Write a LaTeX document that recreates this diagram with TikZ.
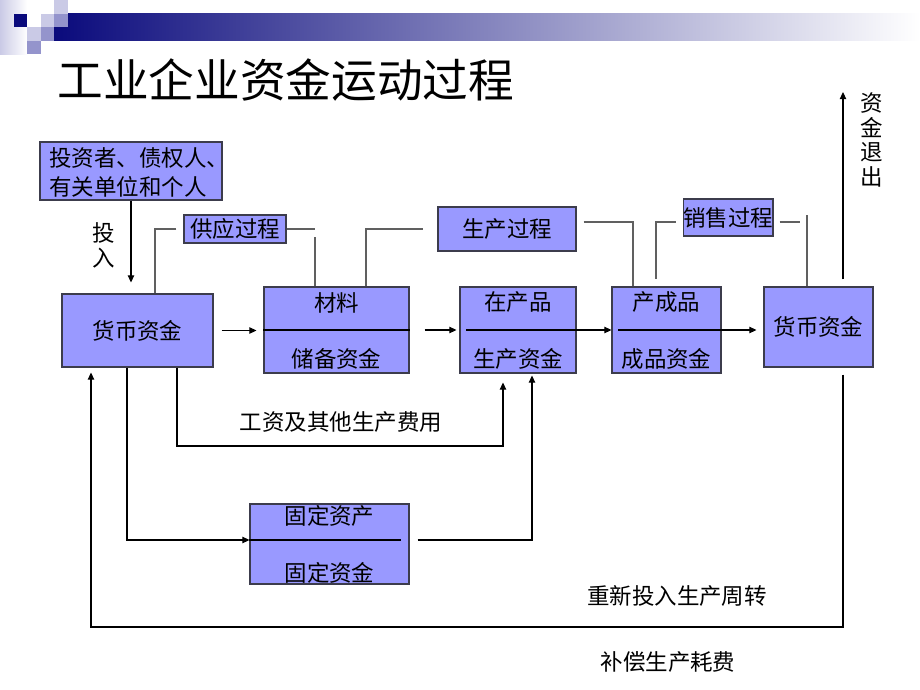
\documentclass[tikz,border=0pt]{standalone}
\usepackage{fontspec}
\setmainfont{Noto Sans CJK SC}
\usepackage{tikz}
\usetikzlibrary{arrows.meta}
\usetikzlibrary{positioning}
\usepackage{xcolor}
\definecolor{boxblue}{HTML}{9999FF}
\definecolor{navyc}{HTML}{0A0A7C}
\definecolor{barmid}{HTML}{A4A4D2}
\definecolor{lightlav}{HTML}{CACAE6}
\definecolor{midlav}{HTML}{9494CC}
\definecolor{linegray}{HTML}{606060}
\definecolor{edgegray}{HTML}{3C3C4C}

\tikzset{
  txt/.style={font=\fontsize{12.8pt}{15pt}\selectfont, inner sep=0pt},
  box/.style={txt, draw=edgegray, fill=boxblue, line width=0.6pt},
  flow/.style={-{Triangle[length=4pt,width=3.6pt]}, line width=0.6pt},
  procline/.style={draw=linegray, line width=0.8pt},
  divide/.style={line width=0.6pt}
}

\begin{document}
\begin{tikzpicture}[x=0.02cm,y=-0.02cm]
\useasboundingbox (0,0) rectangle (920,690);
% header squares and bar
\shade[left color=lightlav,right color=white] (0,0) rectangle (27,54);
\shade[left color=navyc,middle color=barmid,right color=white] (54,13.5) rectangle (920,40.5);
\fill[navyc] (13.5,13.5) rectangle ++(13.5,13.5);
\fill[lightlav] (27,27) rectangle ++(13.5,13.5);
\fill[midlav] (27,40.5) rectangle ++(13.5,13.5);
\fill[lightlav] (40.5,13.5) rectangle ++(13.5,13.5);
\fill[midlav] (40.5,27) rectangle ++(13.5,13.5);
\fill[lightlav] (54,0) rectangle ++(13.5,13.5);
\fill[midlav] (54,13.5) rectangle ++(13.5,13.5);
\node[anchor=west, inner sep=0pt, font=\fontsize{26pt}{30pt}\selectfont] (title) at (57,80) {工业企业资金运动过程};

% boxes
\node[box, minimum width=3.64cm, minimum height=1.16cm] (inv) at (131,171) {};
\node[txt, anchor=west, align=left, font=\fontsize{12.8pt}{16.4pt}\selectfont] (invtxt) at (49,172.5) {投资者、债权人、\\有关单位和个人};
\node[box, minimum width=2.04cm, minimum height=0.56cm] (supply) at (235,229) {供应过程};
\node[box, minimum width=2.76cm, minimum height=0.88cm] (prodp) at (507,229) {生产过程};
\node[box, minimum width=1.76cm, minimum height=0.74cm] (sales) at (728,217.5) {销售过程};
\node[box, minimum width=3.02cm, minimum height=1.46cm] (m1) at (137.5,330.5) {货币资金};
\node[box, minimum width=2.9cm, minimum height=1.72cm] (mat) at (336.5,330) {};
\node[box, minimum width=2.32cm, minimum height=1.72cm] (wip) at (518,330) {};
\node[box, minimum width=2.18cm, minimum height=1.72cm] (fin) at (666.5,330) {};
\node[box, minimum width=2.18cm, minimum height=1.6cm] (m2) at (818.5,327) {货币资金};
\node[box, minimum width=3.18cm, minimum height=1.6cm] (fixed) at (329.5,544) {};

\node[txt] (matU) at ([yshift=-0.32cm]mat.north) {材料};
\node[txt] (matD) at ([yshift=0.3cm]mat.south) {储备资金};
\node[txt] (wipU) at ([yshift=-0.32cm]wip.north) {在产品};
\node[txt] (wipD) at ([yshift=0.3cm]wip.south) {生产资金};
\node[txt] (finU) at ([yshift=-0.32cm]fin.north) {产成品};
\node[txt] (finD) at ([yshift=0.3cm]fin.south) {成品资金};
\node[txt] (fixU) at ([yshift=-0.24cm]fixed.north) {固定资产};
\node[txt] (fixD) at ([yshift=0.24cm]fixed.south) {固定资金};

% main flow
\draw[flow, shorten >=0.22cm] (inv.south) -- (inv.south |- m1.north);
\node[txt, align=center, font=\fontsize{12.8pt}{14.2pt}\selectfont] (invlbl) at (104,245.5) {投\\入};
\draw[flow, shorten <=0.16cm, shorten >=0.14cm] (m1.east) -- (mat.west |- m1.east);
\draw[divide] (mat.west) -- (mat.east);
\draw[flow, shorten <=0.3cm, shorten >=0.06cm] (mat.east) -- (wip.west);
\draw[flow] ([xshift=0.14cm]wip.west) -- (fin.west);
\draw[flow, shorten >=0.14cm] ([xshift=0.14cm]fin.west) -- (m2.west |- fin.west);

% wages
\coordinate (wageA) at (177,446);
\coordinate (wageB) at (503,446);
\draw[flow, shorten >=0.18cm] (wageA |- m1.south) -- (wageA) -- (wageB) -- (wageB |- wip.south);
\node[txt] (wagelbl) at (341,422) {工资及其他生产费用};

% fixed assets
\coordinate (capA) at (127,540);
\coordinate (capB) at (532,540);
\draw[flow] (capA |- m1.south) -- (capA) -- (fixed.west |- capA);
\draw[divide] (fixed.west |- capA) -- ++(152,0);
\draw[flow, shorten <=0.16cm, shorten >=0.04cm] (fixed.east |- capB) -- (capB) -- (capB |- wip.south);

% back to money
\coordinate (loopR) at (843,627);
\coordinate (loopL) at (91,627);
\draw[flow, shorten <=0.14cm, shorten >=0.1cm] (loopR |- m2.south) -- (loopR) -- (loopL) -- (loopL |- m1.south);
\node[txt] (reinv) at (677,596) {重新投入生产周转};
\node[txt] (comp) at (668,662) {补偿生产耗费};

% exit
\coordinate (exitT) at (843,92);
\draw[flow, shorten <=0.14cm] (exitT |- m2.north) -- (exitT);
\node[txt, align=center, font=\fontsize{12.8pt}{13.9pt}\selectfont] (exitlbl) at (872,140) {资\\金\\退\\出};

% process lines
\coordinate (supL) at (155,229);
\coordinate (supR) at (315,229);
\draw[procline] ([xshift=-0.14cm]supply.west) -- (supL) -- (supL |- m1.north);
\draw[procline] (supply.east) -- (supR);
\draw[procline] ([yshift=-0.16cm]supR) -- (supR |- mat.north);
\coordinate (matL) at (366,229);
\coordinate (matLend) at (423,229);
\draw[procline] (matL |- mat.north) -- (matL) -- (matLend);
\coordinate (prodR) at (633,222);
\draw[procline] ([xshift=0.14cm]prodp.east |- prodR) -- (prodR) -- (prodR |- fin.north);
\coordinate (salL) at (656,222);
\coordinate (salLend) at (656,279);
\draw[procline] ([xshift=-0.14cm]sales.west |- salL) -- (salL) -- (salLend);
\coordinate (salR) at (800,222);
\coordinate (salV) at (807,215);
\draw[procline] ([xshift=0.12cm]sales.east |- salR) -- (salR);
\draw[procline] (salV) -- (salV |- m2.north);
\end{tikzpicture}
\end{document}
